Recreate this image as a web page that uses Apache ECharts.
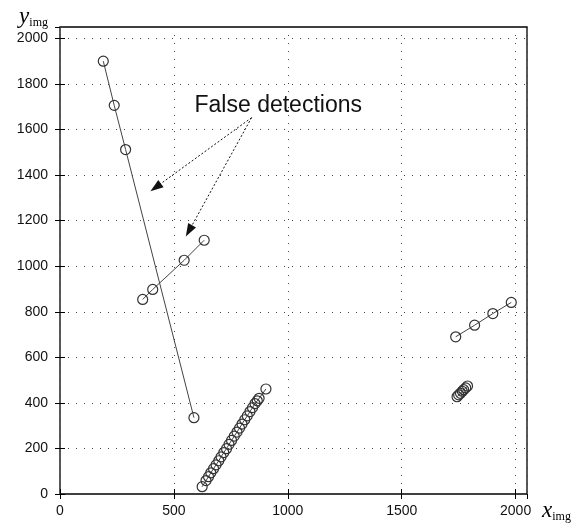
<!DOCTYPE html>
<html>
<head>
<meta charset="utf-8">
<script src="https://cdn.jsdelivr.net/npm/echarts@6/dist/echarts.min.js"></script>
<style>
  html, body { margin: 0; padding: 0; background: #fff; }
  #chart { width: 584px; height: 529px; }
</style>
</head>
<body>
<div id="chart"></div>
<script>
  // tracks (x_img, y_img)
  var falseAX = [190, 238, 288, 588];
  var falseAY = [1900, 1706, 1512, 335];
  var falseBX = [363, 407, 545, 633];
  var falseBY = [854, 898, 1026, 1114];
  var trackCX = [1737, 1820, 1900, 1981];
  var trackCY = [690, 741, 792, 841];
  var trackDX = [1743, 1750, 1758, 1766, 1772, 1781, 1789];
  var trackDY = [427, 435, 442, 451, 458, 466, 474];
  var trackEX = [624, 641, 652, 662, 674, 685, 697, 707, 719, 731, 742, 753, 765, 777, 788, 799, 811, 822, 834, 845, 856, 866, 874, 904];
  var trackEY = [32, 59, 76, 93, 111, 128, 146, 163, 182, 199, 218, 235, 254, 272, 289, 307, 326, 343, 362, 379, 397, 409, 420, 461];

  // annotation
  var noteText = 'False detections';
  var notePos = [958, 1706];
  var arrowFrom = [841, 1652];
  var arrowTo1 = [420, 1346];
  var arrowTo2 = [566, 1155];

  var xTicks = [0, 500, 1000, 1500, 2000];
  var yTicks = [0, 200, 400, 600, 800, 1000, 1200, 1400, 1600, 1800, 2000];

  function pairs (xs, ys) {
    var out = [];
    for (var i = 0; i < xs.length; i++) {
      out.push([xs[i], ys[i]]);
    }
    return out;
  }

  var myChart = echarts.init(document.getElementById('chart'));

  var mark = {
    type: 'line',
    symbol: 'circle',
    symbolSize: 10,
    showSymbol: true,
    lineStyle: { color: '#444', width: 1 },
    itemStyle: { color: 'transparent', borderColor: '#333', borderWidth: 1.2 },
    emphasis: { disabled: true },
    z: 3
  };

  var axisFont = { color: '#111', fontSize: 14, fontFamily: 'Liberation Sans' };

  var nameRich = {
    x: { fontFamily: 'Liberation Serif', fontStyle: 'italic', fontSize: 23, color: '#000', lineHeight: 24 },
    s: { fontFamily: 'Liberation Serif', fontSize: 12, color: '#000', lineHeight: 15, verticalAlign: 'bottom' }
  };

  function xAxisOf (pos, labels) {
    return {
      type: 'value',
      position: pos,
      min: 0,
      max: 2050,
      interval: 500,
      axisLine: { show: false },
      axisTick: { show: true, inside: true, length: 5, lineStyle: { color: '#000' } },
      axisLabel: Object.assign({
        show: labels,
        margin: 10,
        showMaxLabel: false,
        formatter: function (v) { return xTicks.indexOf(v) >= 0 ? String(v) : ''; }
      }, axisFont),
      splitLine: { show: labels, lineStyle: { color: '#444', type: [1, 7], width: 1 } },
      name: labels ? '{x|x}{s|img}' : '',
      nameLocation: 'end',
      nameGap: 15,
      nameTextStyle: {
        verticalAlign: 'top',
        padding: [5, 0, 0, 0],
        rich: nameRich
      }
    };
  }

  function yAxisOf (pos, labels) {
    return {
      type: 'value',
      position: pos,
      min: 0,
      max: 2050,
      interval: 200,
      axisLine: { show: false },
      axisTick: { show: true, inside: true, length: 5, lineStyle: { color: '#000' } },
      axisLabel: Object.assign({
        show: labels,
        margin: 12,
        showMaxLabel: false,
        formatter: function (v) { return yTicks.indexOf(v) >= 0 ? String(v) : ''; }
      }, axisFont),
      splitLine: { show: labels, lineStyle: { color: '#444', type: [1, 7], width: 1 } },
      name: labels ? '{x|y}{s|img}' : '',
      nameLocation: 'end',
      nameGap: -2,
      nameTextStyle: {
        align: 'right',
        verticalAlign: 'bottom',
        padding: [0, 12, 0, 0],
        rich: nameRich
      }
    };
  }

  var arrowLine = { type: [2, 2], color: '#111', width: 1 };

  myChart.setOption({
    animation: false,
    backgroundColor: '#fff',
    grid: {
      left: 60,
      right: 57,
      top: 27,
      bottom: 35,
      show: true,
      borderColor: '#000',
      borderWidth: 1.3,
      backgroundColor: 'transparent'
    },
    xAxis: [xAxisOf('bottom', true), xAxisOf('top', false)],
    yAxis: [yAxisOf('left', true), yAxisOf('right', false)],
    series: [
      Object.assign({}, mark, {
        data: pairs(falseAX, falseAY),
        markLine: {
          silent: true,
          symbol: ['none', 'triangle'],
          symbolSize: [9, 13],
          label: { show: false },
          lineStyle: arrowLine,
          itemStyle: { color: '#000' },
          data: [
            [{ coord: arrowFrom }, { coord: arrowTo1 }],
            [{ coord: arrowFrom }, { coord: arrowTo2 }]
          ]
        },
        markPoint: {
          silent: true,
          symbol: 'rect',
          symbolSize: 1,
          itemStyle: { color: 'transparent' },
          label: {
            show: true,
            position: 'inside',
            formatter: noteText,
            color: '#111',
            fontSize: 23,
            fontFamily: 'Liberation Sans'
          },
          data: [{ coord: notePos }]
        }
      }),
      Object.assign({}, mark, { data: pairs(falseBX, falseBY) }),
      Object.assign({}, mark, { data: pairs(trackCX, trackCY) }),
      Object.assign({}, mark, { data: pairs(trackDX, trackDY) }),
      Object.assign({}, mark, { data: pairs(trackEX, trackEY) })
    ]
  });
</script>
</body>
</html>
